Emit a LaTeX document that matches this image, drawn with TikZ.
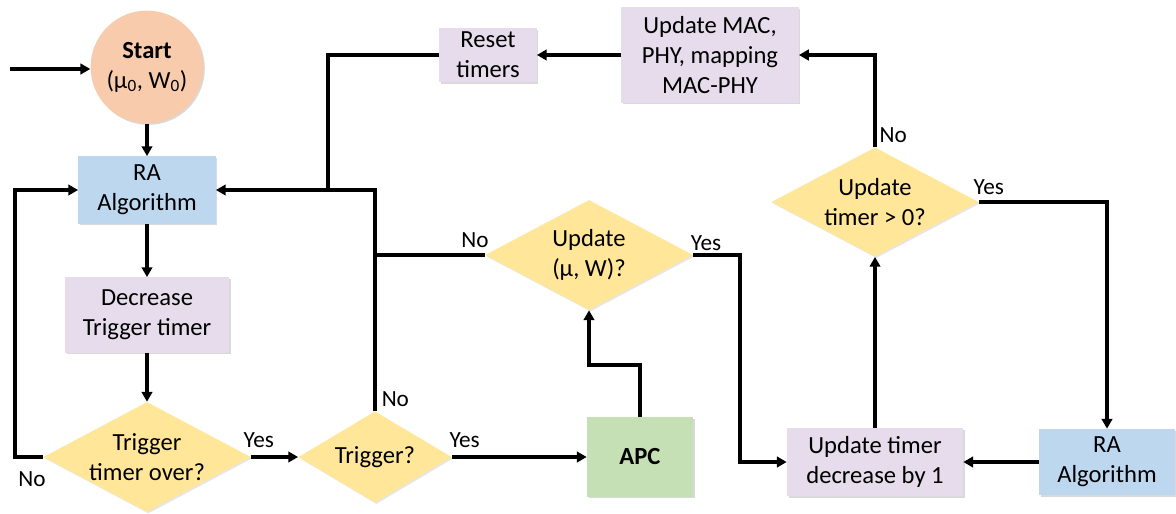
\documentclass[tikz,border=0pt]{standalone}
\usepackage{fontspec}
\setmainfont{Carlito}
\usetikzlibrary{arrows.meta,shapes.geometric,shadows}
\definecolor{peach}{HTML}{F8CBAD}
\definecolor{rablue}{HTML}{BDD7EE}
\definecolor{lilac}{HTML}{E6DCEB}
\definecolor{sand}{HTML}{FFE699}
\definecolor{leaf}{HTML}{C5E0B4}
\tikzset{
  blk/.style={rectangle,fill=#1,inner sep=2pt,align=center,
    drop shadow={opacity=0.3,shadow xshift=1.2pt,shadow yshift=-1.2pt}},
  ask/.style={diamond,fill=sand,inner sep=0pt,
    drop shadow={opacity=0.2,shadow xshift=1pt,shadow yshift=-1pt}},
  lbl/.style={inner sep=2pt,font=\fontsize{16.5}{20}\selectfont},
  flow/.style={line width=2.6pt,->}
}
\begin{document}
\begin{tikzpicture}[x=0.025cm,y=-0.025cm,>={Triangle[length=7pt,width=7.5pt]},
  every node/.style={font=\fontsize{17.5}{21.3}\selectfont}]
\useasboundingbox (0,0) rectangle (1176,513);
\node[circle,fill=peach,minimum size=2.82cm,inner sep=0pt,align=center,
  drop shadow={opacity=0.3,shadow xshift=1pt,shadow yshift=-1pt}] (start) at (147,67)
  {\textbf{Start}\\(μ\textsubscript{0}, W\textsubscript{0})};
\node[blk=rablue,minimum width=3.43cm,minimum height=1.68cm] (ra1) at (147,190) {RA\\Algorithm};
\node[blk=lilac,minimum width=4.1cm,minimum height=1.88cm] (decr) at (147,315) {Decrease\\Trigger timer};
\node[ask,minimum width=5.18cm,minimum height=2.75cm,
  label={[align=center]center:{Trigger\\timer over?}}] (tto) at (147,457) {};
\node[ask,minimum width=3.83cm,minimum height=2.28cm,
  label={center:Trigger?}] (trig) at (375,457) {};
\node[ask,minimum width=5.2cm,minimum height=2.75cm,
  label={[align=center]center:{Update\\(μ, W)?}}] (upd) at (589,255) {};
\node[blk=leaf,minimum width=2.65cm,minimum height=1.98cm] (apc) at (640,457) {\textbf{APC}};
\node[blk=lilac,minimum width=4.4cm,minimum height=1.7cm] (utd) at (875,462) {Update timer\\decrease by 1};
\node[blk=rablue,minimum width=3.4cm,minimum height=1.65cm] (ra2) at (1107,462) {RA\\Algorithm};
\node[ask,minimum width=5.18cm,minimum height=2.73cm,
  label={[align=center]center:{Update\\timer > 0?}}] (utg) at (875,202) {};
\node[blk=lilac,minimum width=4.43cm,minimum height=2.38cm] (mac) at (710,55) {Update MAC,\\PHY, mapping\\MAC-PHY};
\node[blk=lilac,minimum width=2.43cm,minimum height=1.35cm] (reset) at (488,55) {Reset\\timers};
\coordinate (in) at (10,69);
\coordinate (join) at (328,190);
\draw[flow] (in) -- (start.west |- in);
\draw[flow] (start) -- (ra1);
\draw[flow] (ra1) -- (decr);
\draw[flow] (decr) -- (tto);
\draw[flow] (tto.east) -- (trig.west) node[lbl,pos=0,above right,xshift=-8.5pt,yshift=3.5pt] {Yes};
\draw[flow] (tto.west) node[lbl,below left,xshift=5pt,yshift=-7pt] {No} -- ++(-28,0) |- (ra1.west);
\draw[flow] (trig.north) node[lbl,above right,xshift=1.5pt] {No} |- (ra1.east);
\draw[line width=2.6pt] (trig.north |- upd.west) -- (upd.west) node[lbl,above left,xshift=6pt,yshift=2pt] {No};
\draw[flow] (trig.east) -- (apc.west) node[lbl,pos=0,above right,xshift=-5pt,yshift=3pt] {Yes};
\draw[flow] (apc.north) -- ++(0,-52) -| (upd.south);
\draw[flow] (upd.east) node[lbl,above right,xshift=-5pt] {Yes} -- ++(47,0) |- (utd.west);
\draw[flow] (ra2.west) -- (utd.east);
\draw[flow] (utd.north) -- (utg.south);
\draw[flow] (utg.east) node[lbl,above right,xshift=-7pt,yshift=2pt] {Yes} -| (ra2.north);
\draw[flow] (utg.north) node[lbl,above right] {No} |- (mac.east);
\draw[flow] (mac.west) -- (reset.east);
\draw[line width=2.6pt] (reset.west) -| (join);
\end{tikzpicture}
\end{document}
